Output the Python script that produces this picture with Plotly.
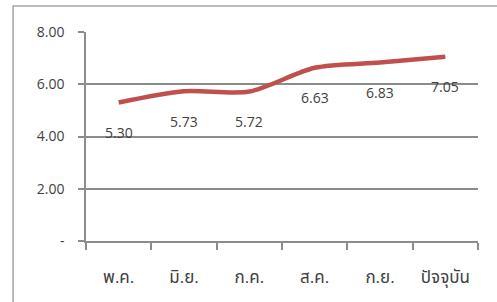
import plotly.graph_objects as go

months = ["พ.ค.", "มิ.ย.", "ก.ค.", "ส.ค.", "ก.ย.", "ปัจจุบัน"]
values = [5.30, 5.73, 5.72, 6.63, 6.83, 7.05]
value_labels = ["5.30", "5.73", "5.72", "6.63", "6.83", "7.05"]
y_tickvals = [0, 2, 4, 6, 8]
y_ticktext = ["-", "2.00", "4.00", "6.00", "8.00"]

FONT = "Open Sans, Noto Sans Thai, Tahoma, sans-serif"
TXT = "#404040"
AX = "#8c8c8c"

fig = go.Figure()
fig.add_trace(go.Scatter(
    x=months, y=values, mode="lines",
    line=dict(color="#C0504D", width=4.5, shape="spline", smoothing=0.8),
    hoverinfo="skip", showlegend=False,
))

for m, v, t in zip(months, values, value_labels):
    fig.add_annotation(x=m, y=v, text=t, showarrow=False, yshift=-30,
                       font=dict(family=FONT, size=14, color=TXT))

fig.add_shape(type="rect", xref="paper", yref="paper",
              x0=-0.186, y0=-0.5, x1=1.2, y1=1.124,
              line=dict(color="#a6a6a6", width=1.5), layer="below")

fig.update_layout(
    width=497, height=302,
    margin=dict(l=86, r=19, t=32, b=61),
    paper_bgcolor="white", plot_bgcolor="white",
    font=dict(family=FONT, size=14, color=TXT),
    xaxis=dict(
        type="category", range=[-0.5, 5.5],
        tickson="boundaries", ticks="outside", ticklen=7, tickcolor=AX, tickwidth=1.5,
        showline=True, linecolor=AX, linewidth=1.5,
        showgrid=False, zeroline=False, ticklabelstandoff=20,
        tickfont=dict(size=17), automargin=False,
    ),
    yaxis=dict(
        range=[0, 8], tickmode="array", tickvals=y_tickvals, ticktext=y_ticktext,
        ticks="outside", ticklen=6, tickcolor=AX, tickwidth=1.5,
        showline=True, linecolor=AX, linewidth=1.5,
        showgrid=True, gridcolor=AX, gridwidth=1.5, zeroline=False,
        ticklabelstandoff=11, automargin=False,
    ),
)

fig.write_html("out.html", config={"displayModeBar": False},
               post_script="document.body.style.margin='0';")
